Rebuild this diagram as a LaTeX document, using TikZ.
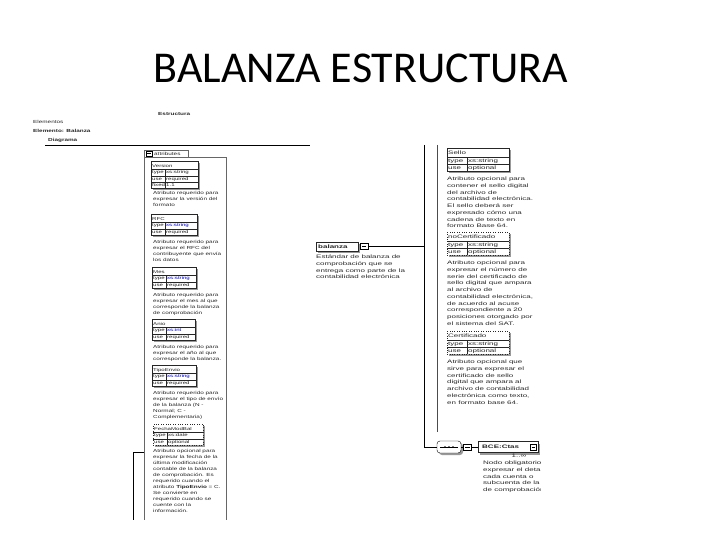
\documentclass[tikz,border=0pt]{standalone}
\usepackage{fontspec}
\setmainfont{Carlito}
\newfontfamily\leftshot[FakeStretch=1.45]{Liberation Sans}
\newfontfamily\rightshot[FakeStretch=1.6]{Liberation Sans}
\usepackage{xcolor}
\usepackage{tikz}
\usetikzlibrary{shadows}
\usetikzlibrary{calc}
\setlength{\tabcolsep}{1pt}

\begin{document}
\begin{tikzpicture}[x=1pt, y=-1pt]
                \tikzstyle{ltext}  = [anchor=north west, align=left, inner sep=0pt, text=black!85, font=\leftshot\fontsize{4.4}{6}\selectfont]
                \tikzstyle{rtext}  = [anchor=north west, align=left, inner sep=0pt, text=black!85, font=\rightshot\fontsize{5}{6.7}\selectfont]
                \tikzstyle{grayshadow} = [drop shadow={shadow xshift=2pt, shadow yshift=-2pt, fill=black!40, opacity=1}]
                \tikzstyle{ltab}   = [anchor=north west, inner sep=0pt, draw=black!85, fill=white, grayshadow, text=black!85, font=\leftshot\fontsize{4.2}{6}\selectfont]
                \tikzstyle{rtab}   = [anchor=north west, inner sep=0pt, draw=black!85, fill=white, grayshadow, text=black!85, font=\rightshot\fontsize{5}{6.5}\selectfont]
                \tikzstyle{icon}   = [draw, fill=white, minimum width=8pt, minimum height=6pt, inner sep=0pt]
                \useasboundingbox (0,0) rectangle (720,540);
                \node [font=\fontsize{44}{53}\selectfont, anchor=base](title) at (361,83) {BALANZA ESTRUCTURA};
                %%Left screenshot
                \node [ltext, font=\leftshot\bfseries\fontsize{4.4}{6}\selectfont](estructura) at (158,112) {Estructura};
                \node [ltext](elementos) at (33,120) {Elementos};
                \node [ltext, font=\leftshot\bfseries\fontsize{4.4}{6}\selectfont](elemento) at (33,129) {Elemento: Balanza};
                \node [ltext, font=\leftshot\bfseries\fontsize{4.4}{6}\selectfont](diagrama) at (48,138) {Diagrama};
                \draw [thick] (45,145) -- (310,145);
                \node [ltext, draw=black!60, fill=white, minimum width=44pt, minimum height=7pt, text width=42pt, inner xsep=1pt](attrtab) at (144,150) {\hspace*{9pt}attributes};
                \node [icon, minimum width=6pt, minimum height=4.5pt](tabminus) at (149,153.5) {};
                \draw ([xshift=1.2pt]tabminus.west) -- ([xshift=-1.2pt]tabminus.east);
                \draw [black!60] (attrtab.south west) -- (144,520);
                \draw [black!60] (attrtab.south east) -| (226,520);
                \node [ltab](version) at (151,161) {\begin{tabular}{p{12pt}|p{31pt}}
                    \multicolumn{2}{l}{\rule[-2pt]{0pt}{8pt}Version}\\ \hline
                    type & xs:string\\ \hline
                    use & required\\ \hline
                    fixed & 1.1
                  \end{tabular}};
                \node [ltext](versiondesc) at (153,191) {Atributo requerido para\\expresar la versión del\\formato};
                \node [ltab](rfc) at (151,214) {\begin{tabular}{p{12pt}|p{30pt}}
                    \multicolumn{2}{l}{\rule[-2pt]{0pt}{8pt}RFC}\\ \hline
                    type & \textcolor{blue!70!black}{xs:string}\\ \hline
                    use & required
                  \end{tabular}};
                \node [ltext](rfcdesc) at (153,240) {Atributo requerido para\\expresar el RFC del\\contribuyente que envía\\los datos};
                \node [ltab](mes) at (152,267) {\begin{tabular}{p{12pt}|p{28pt}}
                    \multicolumn{2}{l}{\rule[-2pt]{0pt}{8pt}Mes}\\ \hline
                    type & \textcolor{blue!70!black}{xs:string}\\ \hline
                    use & required
                  \end{tabular}};
                \node [ltext](mesdesc) at (153,293) {Atributo requerido para\\expresar el mes al que\\corresponde la balanza\\de comprobación};
                \node [ltab](anio) at (152,319) {\begin{tabular}{p{12pt}|p{27pt}}
                    \multicolumn{2}{l}{\rule[-2pt]{0pt}{8pt}Anio}\\ \hline
                    type & \textcolor{blue!70!black}{xs:int}\\ \hline
                    use & required
                  \end{tabular}};
                \node [ltext](aniodesc) at (153,345) {Atributo requerido para\\expresar el año al que\\corresponde la balanza.};
                \node [ltab](tipoenvio) at (152,365) {\begin{tabular}{p{12pt}|p{28pt}}
                    \multicolumn{2}{l}{\rule[-2pt]{0pt}{8pt}TipoEnvio}\\ \hline
                    type & \textcolor{blue!70!black}{xs:string}\\ \hline
                    use & required
                  \end{tabular}};
                \node [ltext](tipoenviodesc) at (153,391) {Atributo requerido para\\expresar el tipo de envío\\de la balanza (N -\\Normal; C -\\Complementaria)};
                \node [ltab, dotted](fecha) at (153,424) {\begin{tabular}{p{12pt}|p{34pt}}
                    \multicolumn{2}{l}{\rule[-2pt]{0pt}{8pt}FechaModBal}\\ \hline
                    type & xs:date\\ \hline
                    use & optional
                  \end{tabular}};
                \node [ltext](fechadesc) at (153,449) {Atributo opcional para\\expresar la fecha de la\\última modificación\\contable de la balanza\\de comprobación. Es\\requerido cuando el\\atributo \textbf{TipoEnvio} = C.\\Se convierte en\\requerido cuando se\\cuente con la\\información.};
                \coordinate (sidetop) at (133,452);
                \coordinate (sidebot) at (133,520);
                \draw (144,452) -- (sidetop) -- (sidebot);
                %%Right screenshot
                \begin{scope}
                \clip (300,140) rectangle (540,500);
                \node [rtab, minimum width=42pt, minimum height=9pt, text width=38pt, inner xsep=2pt](balanza) at (316,242) {\bfseries balanza};
                \node [icon](balminus) at (364,246.5) {};
                \draw ([xshift=2pt]balminus.west) -- ([xshift=-2pt]balminus.east);
                \node [rtext](balanzadesc) at (316,255) {Estándar de balanza de\\comprobación que se\\entrega como parte de la\\contabilidad electrónica};
                \coordinate (ltop) at (424,145);
                \coordinate (lbot) at (424,447);
                \coordinate (atop) at (437,145);
                \coordinate (abot) at (437,432);
                \node [rtab](sello) at (447,148) {\begin{tabular}{p{18pt}|p{40pt}}
                    \multicolumn{2}{l}{\rule[-2.5pt]{0pt}{9pt}Sello}\\ \hline
                    type & xs:string\\ \hline
                    use & optional
                  \end{tabular}};
                \node [rtext](sellodesc) at (447,177) {Atributo opcional para\\contener el sello digital\\del archivo de\\contabilidad electrónica.\\El sello deberá ser\\expresado cómo una\\cadena de texto en\\formato Base 64.};
                \node [rtab, dotted](nocert) at (447,232) {\begin{tabular}{p{18pt}|p{40pt}}
                    \multicolumn{2}{l}{\rule[-2.5pt]{0pt}{9pt}noCertificado}\\ \hline
                    type & xs:string\\ \hline
                    use & optional
                  \end{tabular}};
                \node [rtext](nocertdesc) at (447,261) {Atributo opcional para\\expresar el número de\\serie del certificado de\\sello digital que ampara\\al archivo de\\contabilidad electrónica,\\de acuerdo al acuse\\correspondiente a 20\\posiciones otorgado por\\el sistema del SAT.};
                \node [rtab, dotted](cert) at (447,331) {\begin{tabular}{p{18pt}|p{40pt}}
                    \multicolumn{2}{l}{\rule[-2.5pt]{0pt}{9pt}Certificado}\\ \hline
                    type & xs:string\\ \hline
                    use & optional
                  \end{tabular}};
                \node [rtext](certdesc) at (447,360) {Atributo opcional que\\sirve para expresar el\\certificado de sello\\digital que ampara al\\archivo de contabilidad\\electrónica como texto,\\en formato base 64.};
                \node [draw, fill=white, grayshadow, rounded corners=3pt, minimum width=24pt, minimum height=12pt](seq) at (449,447) {};
                \draw ([xshift=3pt]seq.west) -- ([xshift=-3pt]seq.east);
                \foreach \d in {-4,0,4}
                    \fill ($(seq.center) + (\d,0)$) circle (0.9);
                \node [icon](seqminus) at (467.5,447) {};
                \draw ([xshift=2pt]seqminus.west) -- ([xshift=-2pt]seqminus.east);
                \node [rtab, anchor=west, minimum width=60pt, minimum height=11pt, text width=52pt, inner xsep=4pt](ctas) at (478,447) {\bfseries BCE:Ctas};
                \node [icon, minimum width=6pt, minimum height=6pt](ctasicon) at ([xshift=-5pt]ctas.east) {};
                \draw ([xshift=1.5pt]ctasicon.west) -- ([xshift=-1.5pt]ctasicon.east);
                \node [rtext, anchor=north](mult) at (519,454) {1..∞};
                \node [rtext](ctasdesc) at (483,461) {Nodo obligatorio para\\expresar el detalle de\\cada cuenta o\\subcuenta de la balanza\\de comprobación};
                %%Edges
                \draw (balminus.east) -- (balminus.east -| ltop);
                \draw (ltop) -- (lbot) -- (seq.west);
                \draw [black!70] (atop) -- (abot);
                \draw (seq.east) -- (seqminus.west);
                \draw (seqminus.east) -- (ctas.west);
                \end{scope}
\end{tikzpicture}
\end{document}
